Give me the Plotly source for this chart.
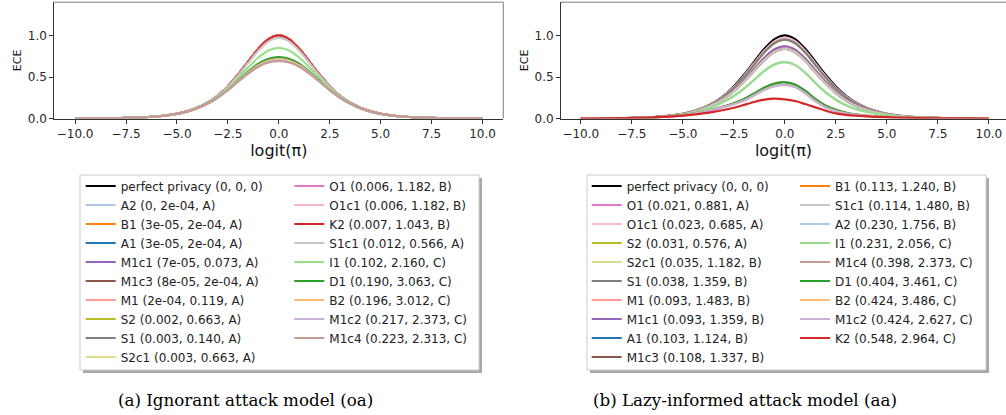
import plotly.graph_objects as go

# ---------------- data ----------------
x_logit = [-10, -9, -8, -7, -6, -5, -4.5, -4, -3.5, -3, -2.5, -2, -1.5, -1, -0.5, 0,
           0.5, 1, 1.5, 2, 2.5, 3, 3.5, 4, 4.5, 5, 6, 7, 8, 9, 10]
x_tickvals = [-10, -7.5, -5, -2.5, 0, 2.5, 5, 7.5, 10]
x_ticktext = ["\u221210.0", "\u22127.5", "\u22125.0", "\u22122.5", "0.0", "2.5", "5.0", "7.5", "10.0"]
y_tickvals = [0, 0.5, 1.0]
y_ticktext = ["0.0", "0.5", "1.0"]

# (a) ignorant attack model
ece_a_none = [0.001, 0.002, 0.004, 0.011, 0.025, 0.058, 0.087, 0.130, 0.191, 0.275, 0.387, 0.527, 0.685, 0.840, 0.956, 1.000,
              0.956, 0.840, 0.685, 0.527, 0.387, 0.275, 0.191, 0.130, 0.087, 0.058, 0.025, 0.011, 0.004, 0.002, 0.001]
ece_a_S1c1 = [0.001, 0.002, 0.004, 0.011, 0.025, 0.058, 0.087, 0.129, 0.190, 0.273, 0.383, 0.519, 0.671, 0.819, 0.929, 0.970,
              0.929, 0.819, 0.671, 0.519, 0.383, 0.273, 0.190, 0.129, 0.087, 0.058, 0.025, 0.011, 0.004, 0.002, 0.001]
ece_a_I1 = [0.001, 0.002, 0.004, 0.011, 0.025, 0.057, 0.086, 0.127, 0.185, 0.263, 0.365, 0.486, 0.616, 0.735, 0.819, 0.850,
            0.819, 0.735, 0.616, 0.486, 0.365, 0.263, 0.185, 0.127, 0.086, 0.057, 0.025, 0.011, 0.004, 0.002, 0.001]
ece_a_D1 = [0.001, 0.002, 0.004, 0.011, 0.025, 0.057, 0.085, 0.125, 0.181, 0.255, 0.349, 0.456, 0.565, 0.659, 0.719, 0.740,
            0.719, 0.659, 0.565, 0.456, 0.349, 0.255, 0.181, 0.125, 0.085, 0.057, 0.025, 0.011, 0.004, 0.002, 0.001]
ece_a_B2 = [0.001, 0.002, 0.004, 0.011, 0.025, 0.057, 0.084, 0.125, 0.180, 0.253, 0.345, 0.449, 0.554, 0.641, 0.696, 0.715,
            0.696, 0.641, 0.554, 0.449, 0.345, 0.253, 0.180, 0.125, 0.084, 0.057, 0.025, 0.011, 0.004, 0.002, 0.001]
ece_a_M1c2 = [0.001, 0.002, 0.004, 0.011, 0.025, 0.057, 0.084, 0.124, 0.180, 0.252, 0.343, 0.445, 0.547, 0.631, 0.683, 0.700,
              0.683, 0.631, 0.547, 0.445, 0.343, 0.252, 0.180, 0.124, 0.084, 0.057, 0.025, 0.011, 0.004, 0.002, 0.001]
ece_a_M1c4 = [0.001, 0.002, 0.004, 0.011, 0.025, 0.057, 0.084, 0.124, 0.179, 0.251, 0.341, 0.443, 0.542, 0.624, 0.674, 0.690,
              0.674, 0.624, 0.542, 0.443, 0.341, 0.251, 0.179, 0.124, 0.084, 0.057, 0.025, 0.011, 0.004, 0.002, 0.001]

labels_a = ["perfect privacy (0, 0, 0)", "A2 (0, 2e-04, A)", "B1 (3e-05, 2e-04, A)", "A1 (3e-05, 2e-04, A)",
            "M1c1 (7e-05, 0.073, A)", "M1c3 (8e-05, 2e-04, A)", "M1 (2e-04, 0.119, A)", "S2 (0.002, 0.663, A)",
            "S1 (0.003, 0.140, A)", "S2c1 (0.003, 0.663, A)", "O1 (0.006, 1.182, B)", "O1c1 (0.006, 1.182, B)",
            "K2 (0.007, 1.043, B)", "S1c1 (0.012, 0.566, A)", "I1 (0.102, 2.160, C)", "D1 (0.190, 3.063, C)",
            "B2 (0.196, 3.012, C)", "M1c2 (0.217, 2.373, C)", "M1c4 (0.223, 2.313, C)"]
curves_a = [ece_a_none] * 13 + [ece_a_S1c1, ece_a_I1, ece_a_D1, ece_a_B2, ece_a_M1c2, ece_a_M1c4]

# (b) lazy-informed attack model
ece_b_none = ece_a_none
ece_b_O1 = [0.001, 0.002, 0.004, 0.011, 0.025, 0.057, 0.086, 0.128, 0.187, 0.268, 0.376, 0.511, 0.665, 0.815, 0.928, 0.970,
            0.927, 0.813, 0.661, 0.507, 0.372, 0.264, 0.184, 0.126, 0.084, 0.056, 0.024, 0.011, 0.004, 0.002, 0.001]
ece_b_S = [0.001, 0.002, 0.004, 0.011, 0.025, 0.056, 0.085, 0.126, 0.184, 0.264, 0.369, 0.501, 0.651, 0.799, 0.909, 0.950,
           0.908, 0.795, 0.645, 0.494, 0.362, 0.257, 0.179, 0.123, 0.082, 0.055, 0.024, 0.011, 0.004, 0.002, 0.001]
ece_b_M1 = [0.001, 0.002, 0.004, 0.011, 0.024, 0.054, 0.081, 0.120, 0.173, 0.245, 0.340, 0.459, 0.597, 0.732, 0.833, 0.870,
            0.830, 0.723, 0.581, 0.441, 0.322, 0.228, 0.160, 0.111, 0.075, 0.050, 0.022, 0.010, 0.004, 0.002, 0.001]
ece_b_S1c1 = [0.001, 0.002, 0.004, 0.010, 0.023, 0.053, 0.079, 0.117, 0.169, 0.238, 0.329, 0.444, 0.576, 0.707, 0.804, 0.840,
              0.801, 0.696, 0.557, 0.421, 0.307, 0.217, 0.153, 0.106, 0.072, 0.048, 0.021, 0.010, 0.004, 0.002, 0.001]
ece_b_I1 = [0.001, 0.002, 0.004, 0.010, 0.022, 0.048, 0.071, 0.104, 0.146, 0.201, 0.272, 0.361, 0.467, 0.574, 0.652, 0.680,
            0.646, 0.552, 0.429, 0.316, 0.227, 0.160, 0.114, 0.082, 0.057, 0.039, 0.018, 0.008, 0.003, 0.002, 0.001]
ece_b_M1c4 = [0.001, 0.002, 0.003, 0.009, 0.019, 0.041, 0.059, 0.085, 0.113, 0.146, 0.185, 0.236, 0.304, 0.375, 0.424, 0.440,
              0.413, 0.336, 0.237, 0.157, 0.107, 0.072, 0.050, 0.036, 0.027, 0.020, 0.010, 0.005, 0.002, 0.001, 0.001]
ece_b_D1 = [0.001, 0.002, 0.003, 0.009, 0.019, 0.041, 0.059, 0.085, 0.112, 0.145, 0.184, 0.233, 0.301, 0.371, 0.419, 0.435,
            0.408, 0.332, 0.233, 0.154, 0.105, 0.071, 0.049, 0.035, 0.026, 0.019, 0.010, 0.005, 0.002, 0.001, 0.001]
ece_b_M1c2 = [0.001, 0.002, 0.003, 0.009, 0.019, 0.040, 0.057, 0.082, 0.108, 0.138, 0.173, 0.218, 0.280, 0.346, 0.391, 0.405,
              0.379, 0.305, 0.209, 0.134, 0.090, 0.061, 0.043, 0.032, 0.024, 0.018, 0.009, 0.004, 0.002, 0.001, 0.001]
ece_b_K2 = [0.001, 0.002, 0.005, 0.010, 0.020, 0.036, 0.047, 0.062, 0.080, 0.103, 0.130, 0.165, 0.200, 0.228, 0.240, 0.232,
            0.212, 0.175, 0.135, 0.095, 0.062, 0.045, 0.034, 0.027, 0.021, 0.017, 0.010, 0.006, 0.003, 0.002, 0.001]

labels_b = ["perfect privacy (0, 0, 0)", "O1 (0.021, 0.881, A)", "O1c1 (0.023, 0.685, A)", "S2 (0.031, 0.576, A)",
            "S2c1 (0.035, 1.182, B)", "S1 (0.038, 1.359, B)", "M1 (0.093, 1.483, B)", "M1c1 (0.093, 1.359, B)",
            "A1 (0.103, 1.124, B)", "M1c3 (0.108, 1.337, B)", "B1 (0.113, 1.240, B)", "S1c1 (0.114, 1.480, B)",
            "A2 (0.230, 1.756, B)", "I1 (0.231, 2.056, C)", "M1c4 (0.398, 2.373, C)", "D1 (0.404, 3.461, C)",
            "B2 (0.424, 3.486, C)", "M1c2 (0.424, 2.627, C)", "K2 (0.548, 2.964, C)"]
curves_b = [ece_b_none, ece_b_O1, ece_b_O1, ece_b_S, ece_b_S, ece_b_S, ece_b_M1, ece_b_M1, ece_b_S1c1, ece_b_S1c1,
            ece_b_S1c1, ece_b_S1c1, ece_b_I1, ece_b_I1, ece_b_M1c4, ece_b_D1, ece_b_M1c2, ece_b_M1c2, ece_b_K2]

captions = ["(a) Ignorant attack model (oa)", "(b) Lazy-informed attack model (aa)"]

# ---------------- style ----------------
colors = {
    "perfect privacy": "#000000", "A2": "#aec7e8", "B1": "#ff7f0e", "A1": "#1f77b4", "M1c1": "#9467bd",
    "M1c3": "#8c564b", "M1": "#ff9896", "S2": "#bcbd22", "S1": "#7f7f7f", "S2c1": "#dbdb8d", "O1": "#e377c2",
    "O1c1": "#f7b6d2", "K2": "#d62728", "S1c1": "#c7c7c7", "I1": "#98df8a", "D1": "#2ca02c", "B2": "#ffbb78",
    "M1c2": "#c5b0d5", "M1c4": "#c49c94",
}


def color_of(label):
    key = label.split(" (")[0]
    return colors[key]


W, H = 1006, 415
FONT = "DejaVu Sans"

fig = go.Figure()

for labels, curves, xa, ya, legs in [
    (labels_a, curves_a, "x", "y", ("legend", "legend2")),
    (labels_b, curves_b, "x2", "y2", ("legend3", "legend4")),
]:
    for i, (lab, ys) in enumerate(zip(labels, curves)):
        fig.add_trace(go.Scatter(
            x=x_logit, y=ys, mode="lines", name=lab,
            line=dict(color=color_of(lab), width=2.2, shape="spline", smoothing=0.8),
            xaxis=xa, yaxis=ya, legend=legs[0] if i < 10 else legs[1],
            hoverinfo="skip",
        ))


def px_x(v):
    return v / W


def px_y(v):
    return 1 - v / H


ydom = [px_y(118.6), px_y(2.2)]
axis_common = dict(
    showline=True, linecolor="#333333", linewidth=1, ticks="outside", ticklen=4, tickwidth=1,
    tickcolor="#333333", showgrid=False, zeroline=False,
    tickfont=dict(family=FONT, size=12, color="#262626"),
)
fig.update_layout(
    width=W, height=H, margin=dict(l=0, r=0, t=0, b=0, autoexpand=False),
    paper_bgcolor="white", plot_bgcolor="white", showlegend=True,
    xaxis=dict(domain=[px_x(54.3), px_x(503.3)], range=[-11.02, 11.02], anchor="y",
               tickvals=x_tickvals, ticktext=x_ticktext,
               title=dict(text="logit(\u03c0)", font=dict(family=FONT, size=16, color="#111"), standoff=0),
               **axis_common),
    yaxis=dict(domain=ydom, range=[0, 1.4], anchor="x", tickvals=y_tickvals, ticktext=y_ticktext,
               title=dict(text="ECE", font=dict(family=FONT, size=11, color="#111"), standoff=3),
               **axis_common),
    xaxis2=dict(domain=[px_x(561), 1.0], range=[-10.97, 10.84], anchor="y2",
                tickvals=x_tickvals, ticktext=x_ticktext,
                title=dict(text="logit(\u03c0)", font=dict(family=FONT, size=16, color="#111"), standoff=0),
                **axis_common),
    yaxis2=dict(domain=ydom, range=[0, 1.4], anchor="x2", tickvals=y_tickvals, ticktext=y_ticktext,
                title=dict(text="ECE", font=dict(family=FONT, size=11, color="#111"), standoff=3),
                **axis_common),
)

leg_common = dict(bgcolor="rgba(0,0,0,0)", borderwidth=0, xanchor="left", yanchor="top",
                  font=dict(family=FONT, size=12, color="#222"), itemwidth=30, tracegroupgap=0,
                  orientation="v")
leg_top = px_y(171.5)
fig.update_layout(
    legend=dict(x=px_x(80.7), y=leg_top, **leg_common),
    legend2=dict(x=px_x(289.3), y=leg_top, **leg_common),
    legend3=dict(x=px_x(586.7), y=leg_top, **leg_common),
    legend4=dict(x=px_x(795), y=leg_top, **leg_common),
)

shapes = []
for (x0, x1) in [(80, 479), (587, 986)]:
    y0, y1 = 175, 370
    shapes.append(dict(type="rect", xref="paper", yref="paper", x0=px_x(x0 + 3), x1=px_x(x1 + 3),
                       y0=px_y(y1 + 3), y1=px_y(y0 + 3), line=dict(width=0), fillcolor="#a8a8a8", layer="above"))
    shapes.append(dict(type="rect", xref="paper", yref="paper", x0=px_x(x0), x1=px_x(x1),
                       y0=px_y(y1), y1=px_y(y0), line=dict(color="#cccccc", width=1), fillcolor="white", layer="above"))
# top / right spines
for xr, yr, right in [("x domain", "y domain", True), ("x2 domain", "y2 domain", False)]:
    shapes.append(dict(type="line", xref=xr, yref=yr, x0=0, x1=1, y0=1, y1=1, line=dict(color="#808080", width=1)))
    if right:
        shapes.append(dict(type="line", xref=xr, yref=yr, x0=1, x1=1, y0=0, y1=1, line=dict(color="#808080", width=1)))
fig.update_layout(shapes=shapes)

for cap, cx in zip(captions, [245, 745]):
    fig.add_annotation(text=cap, x=px_x(cx), y=px_y(400), xref="paper", yref="paper", showarrow=False,
                       xanchor="center", yanchor="middle",
                       font=dict(family="DejaVu Serif", size=16.7, color="#000"))

fig.write_html("out.html", config={"displayModeBar": False},
               post_script="document.body.style.margin='0';document.body.style.overflow='hidden';")
